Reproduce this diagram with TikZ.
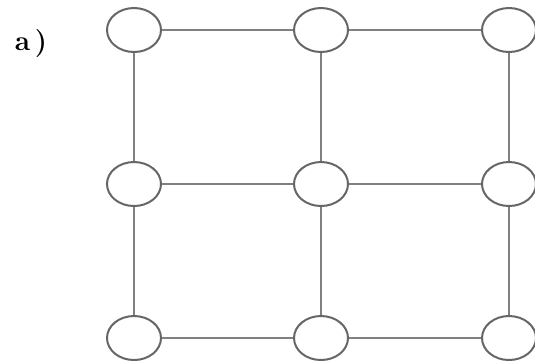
\documentclass[tikz,border=0pt]{standalone}
\usepackage{tikz}
\usetikzlibrary{shapes.geometric}

\begin{document}
\begin{tikzpicture}[x=0.5pt, y=-0.5pt, line width=1pt]
            \tikzset{site/.style={ellipse, draw=black!60, fill=white, minimum width=27pt, minimum height=22pt, inner sep=0pt},
                     bond/.style={draw=black!50}}
            % Fix the frame of the picture
            \useasboundingbox (0,0) rectangle (535,361);

            % Label of the panel
            \node[font=\bfseries\fontsize{14}{16}\selectfont] (lab) at (31,44) {a\,)};

            % Sites of the 3x3 lattice
            \node[site] (s11) at (134,30) {};
            \node[site] (s12) at (321,30) {};
            \node[site] (s13) at (509,30) {};
            \node[site] (s21) at (134,184) {};
            \node[site] (s22) at (321,184) {};
            \node[site] (s23) at (509,184) {};
            \node[site] (s31) at (134,338) {};
            \node[site] (s32) at (321,338) {};
            \node[site] (s33) at (509,338) {};

            % Horizontal bonds
            \foreach \r in {1,2,3} {
                \draw[bond] (s\r1) -- (s\r2);
                \draw[bond] (s\r2) -- (s\r3);
            }

            % Vertical bonds
            \foreach \c in {1,2,3} {
                \draw[bond] (s1\c) -- (s2\c);
                \draw[bond] (s2\c) -- (s3\c);
            }

        \end{tikzpicture}
\end{document}
